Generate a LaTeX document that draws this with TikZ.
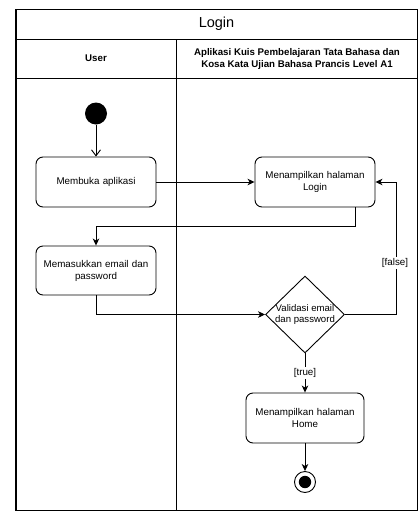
\documentclass[tikz,border=0pt]{standalone}
\usepackage{fontspec}
\setmainfont{Liberation Sans}
\usetikzlibrary{arrows.meta,shapes.geometric}
\begin{document}
\begin{tikzpicture}[x=1pt,y=-1pt,line width=0.9pt,
  action/.style={draw,rounded corners=7pt,minimum width=120pt,minimum height=50pt,
    inner sep=0pt,align=center,text width=116pt,font=\fontsize{9.8}{12}\selectfont},
  lanehead/.style={align=center,font=\bfseries\fontsize{9.7}{12}\selectfont},
  guard/.style={fill=white,inner sep=1.5pt,font=\fontsize{9.8}{11}\selectfont},
  flow/.style={-{Stealth[length=7pt,width=6.5pt,inset=2pt]}},
  openflow/.style={-{Straight Barb[length=6pt,width=9pt]}}]

  % canvas
  \useasboundingbox (0,0) rectangle (418,512);

  % swimlane frame
  \draw (15.5,9.5) rectangle (417.5,510.5);
  \draw[line width=2pt] (16,9) -- (16,511);
  \draw (15.5,39) -- (417.5,39);
  \draw (15.5,78) -- (417.5,78);
  \draw (176,39) -- (176,510.5);

  % headers
  \node[font=\fontsize{14.5}{17}\selectfont] (title) at (216.5,24) {Login};
  \node[lanehead] (laneuser) at (96,58.5) {User};
  \node[lanehead] (laneapp) at (297,58.5) {Aplikasi Kuis Pembelajaran Tata Bahasa dan\\Kosa Kata Ujian Bahasa Prancis Level A1};

  % activity nodes
  \node[circle,fill=black,minimum size=22pt,inner sep=0pt] (start) at (96,113.5) {};
  \node[action] (open) at (96,182) {Membuka aplikasi};
  \node[action] (login) at (315,182) {Menampilkan halaman\\Login};
  \node[action,minimum height=49pt] (input) at (96,270.5) {Memasukkan email dan\\password};
  \node[diamond,draw,minimum width=79pt,minimum height=77pt,inner sep=0pt] (check) at (305,314.5) {};
  \node[align=center,inner sep=0pt,font=\fontsize{9.6}{11.5}\selectfont] (checktext) at (check.center) {Validasi email\\dan password};
  \node[action,minimum width=118pt] (home) at (305,418) {Menampilkan halaman\\Home};
  \node[circle,draw,minimum size=21pt,inner sep=0pt] (finish) at (305,482) {};
  \fill (finish.center) circle (6.2pt);

  % control flow
  \draw[openflow] (start) -- (open);
  \draw[flow] (open) -- (login);
  \draw[flow] ([xshift=40pt]login.south) -- ++(0,19) -| (input.north);
  \draw[flow] (input.south) |- (check.west);
  \draw[flow] (check.east) -- ++(51,0) |- (login.east);
  \node[guard] (falselabel) at (395,263) {[false]};
  \draw[flow] (check.south) -- node[guard] (truelabel) {[true]} (home.north);
  \draw[flow] (home.south) -- (finish.north);
\end{tikzpicture}
\end{document}
